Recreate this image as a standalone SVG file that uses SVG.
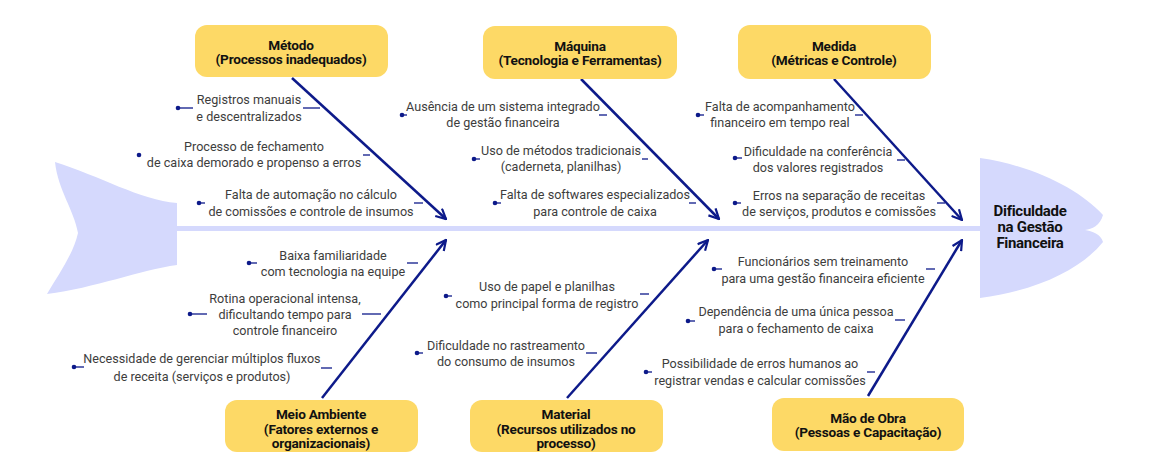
<svg xmlns="http://www.w3.org/2000/svg" width="1154" height="452" viewBox="0 0 1154 452">
<defs>
<style>
.fish{fill:#d5d9fd}
.box{fill:#fdd966}
.bt{font-family:Roboto,"Liberation Sans",sans-serif;font-weight:700;font-size:13.6px;fill:#111;text-anchor:middle;letter-spacing:-0.2px}
.ht{font-family:Roboto,"Liberation Sans",sans-serif;font-weight:700;font-size:15px;fill:#111;text-anchor:middle;letter-spacing:-0.3px}
.it{font-family:Roboto,"Liberation Sans",sans-serif;font-size:12.6px;fill:#3d3d3d;text-anchor:middle}
.bone{stroke:#0d1a8a;stroke-width:2.5;fill:none}
.tick{stroke:#0d1a8a;stroke-width:1.3;fill:none}
.dot{fill:#0d1a8a}
</style>
<marker id="ah" viewBox="0 0 12 12" refX="11" refY="6" markerWidth="12" markerHeight="12" markerUnits="userSpaceOnUse" orient="auto">
<path d="M1,1 L11,6 L1,11" fill="none" stroke="#0d1a8a" stroke-width="2.2"/>
</marker>
</defs>
<rect width="1154" height="452" fill="#fff"/>

<g id="fish-tail">
<path class="fish" d="M55,162 C100,176 140,200 177,203 L177,265 C140,270 95,288 47,294 C58,275 73,255 78,233 C74,210 58,190 55,162 Z"/>
</g>
<g id="spine"><rect class="fish" x="176" y="226" width="806" height="5"/></g>
<g id="head">
<path class="fish" d="M980,158 C1035,166 1080,190 1103,215 C1100,226 1092,229 1085,230 C1092,231 1101,234 1103,242 C1082,268 1040,290 980,298 Z"/>
<text class="ht" x="1030" y="216">Dificuldade</text>
<text class="ht" x="1030" y="232">na Gestão</text>
<text class="ht" x="1030" y="248">Financeira</text>
</g>

<g id="connectors">
<line class="bone" x1="292" y1="78" x2="446" y2="219" marker-end="url(#ah)"/>
<line class="bone" x1="581" y1="79" x2="719" y2="219" marker-end="url(#ah)"/>
<line class="bone" x1="834" y1="79" x2="962" y2="220" marker-end="url(#ah)"/>
<line class="bone" x1="322" y1="398" x2="446" y2="240" marker-end="url(#ah)"/>
<line class="bone" x1="567" y1="398" x2="708" y2="240" marker-end="url(#ah)"/>
<line class="bone" x1="868" y1="396" x2="962" y2="240" marker-end="url(#ah)"/>
</g>

<g id="metodo">
<rect class="box" x="195" y="25" width="193" height="52" rx="12"/>
<text class="bt" x="291" y="50">Método</text>
<text class="bt" x="291" y="64">(Processos inadequados)</text>
</g>
<g id="maquina">
<rect class="box" x="483" y="26" width="194" height="53" rx="12"/>
<text class="bt" x="580" y="51">Máquina</text>
<text class="bt" x="580" y="65">(Tecnologia e Ferramentas)</text>
</g>
<g id="medida">
<rect class="box" x="738" y="25" width="193" height="54" rx="12"/>
<text class="bt" x="834" y="51">Medida</text>
<text class="bt" x="834" y="65">(Métricas e Controle)</text>
</g>
<g id="meio-ambiente">
<rect class="box" x="225" y="400" width="193" height="52" rx="12"/>
<text class="bt" x="321" y="419">Meio Ambiente</text>
<text class="bt" x="321" y="434">(Fatores externos e</text>
<text class="bt" x="321" y="448">organizacionais)</text>
</g>
<g id="material">
<rect class="box" x="470" y="400" width="193" height="52" rx="12"/>
<text class="bt" x="566" y="419">Material</text>
<text class="bt" x="566" y="434">(Recursos utilizados no</text>
<text class="bt" x="566" y="448">processo)</text>
</g>
<g id="mao-de-obra">
<rect class="box" x="772" y="398" width="192" height="53" rx="12"/>
<text class="bt" x="868" y="423">Mão de Obra</text>
<text class="bt" x="868" y="437">(Pessoas e Capacitação)</text>
</g>

<g id="m1">
<circle class="dot" cx="178" cy="108" r="2.3"/><line class="tick" x1="178" y1="108" x2="193" y2="108"/>
<text class="it" x="249" y="104">Registros manuais</text>
<text class="it" x="249" y="121">e descentralizados</text>
<line class="tick" x1="303" y1="108" x2="320" y2="108"/>
</g>
<g id="m2">
<circle class="dot" cx="139" cy="155" r="2.3"/>
<text class="it" x="254" y="151">Processo de fechamento</text>
<text class="it" x="254" y="167">de caixa demorado e propenso a erros</text>
<line class="tick" x1="363" y1="155" x2="370" y2="155"/>
</g>
<g id="m3">
<circle class="dot" cx="199" cy="203" r="2.3"/><line class="tick" x1="199" y1="203" x2="205" y2="203"/>
<text class="it" x="311" y="199">Falta de automação no cálculo</text>
<text class="it" x="311" y="216">de comissões e controle de insumos</text>
<line class="tick" x1="414" y1="203" x2="423" y2="203"/>
</g>

<g id="q1">
<circle class="dot" cx="402" cy="115" r="2.3"/><line class="tick" x1="402" y1="115" x2="407" y2="115"/>
<text class="it" x="503" y="111">Ausência de um sistema integrado</text>
<text class="it" x="503" y="127">de gestão financeira</text>
<line class="tick" x1="599" y1="115" x2="607" y2="115"/>
</g>
<g id="q2">
<circle class="dot" cx="474" cy="159" r="2.3"/><line class="tick" x1="474" y1="159" x2="480" y2="159"/>
<text class="it" x="561" y="155">Uso de métodos tradicionais</text>
<text class="it" x="561" y="171">(caderneta, planilhas)</text>
<line class="tick" x1="642" y1="159" x2="648" y2="159"/>
</g>
<g id="q3">
<circle class="dot" cx="495" cy="203" r="2.3"/><line class="tick" x1="495" y1="203" x2="501" y2="203"/>
<text class="it" x="595" y="199">Falta de softwares especializados</text>
<text class="it" x="595" y="216">para controle de caixa</text>
<line class="tick" x1="689" y1="203" x2="696" y2="203"/>
</g>

<g id="d1">
<circle class="dot" cx="698" cy="115" r="2.3"/><line class="tick" x1="698" y1="115" x2="704" y2="115"/>
<text class="it" x="780" y="111">Falta de acompanhamento</text>
<text class="it" x="780" y="127">financeiro em tempo real</text>
<line class="tick" x1="855" y1="115" x2="863" y2="115"/>
</g>
<g id="d2">
<circle class="dot" cx="735" cy="158" r="2.3"/><line class="tick" x1="735" y1="158" x2="742" y2="158"/>
<text class="it" x="818" y="156">Dificuldade na conferência</text>
<text class="it" x="818" y="172">dos valores registrados</text>
<line class="tick" x1="897" y1="160" x2="905" y2="160"/>
</g>
<g id="d3">
<circle class="dot" cx="735" cy="203" r="2.3"/><line class="tick" x1="735" y1="203" x2="741" y2="203"/>
<text class="it" x="839" y="200">Erros na separação de receitas</text>
<text class="it" x="839" y="216">de serviços, produtos e comissões</text>
<line class="tick" x1="937" y1="203" x2="945" y2="203"/>
</g>

<g id="e1">
<circle class="dot" cx="249" cy="263" r="2.3"/><line class="tick" x1="249" y1="263" x2="257" y2="263"/>
<text class="it" x="333" y="260">Baixa familiaridade</text>
<text class="it" x="333" y="276">com tecnologia na equipe</text>
<line class="tick" x1="407" y1="263" x2="418" y2="263"/>
</g>
<g id="e2">
<circle class="dot" cx="190" cy="314" r="2.3"/><line class="tick" x1="190" y1="314" x2="207" y2="314"/>
<text class="it" x="285" y="303">Rotina operacional intensa,</text>
<text class="it" x="285" y="319">dificultando tempo para</text>
<text class="it" x="285" y="335">controle financeiro</text>
<line class="tick" x1="362" y1="314" x2="381" y2="314"/>
</g>
<g id="e3">
<circle class="dot" cx="74" cy="367" r="2.3"/><line class="tick" x1="74" y1="367" x2="84" y2="367"/>
<text class="it" x="202" y="363">Necessidade de gerenciar múltiplos fluxos</text>
<text class="it" x="202" y="381">de receita (serviços e produtos)</text>
<line class="tick" x1="321" y1="368" x2="332" y2="368"/>
</g>

<g id="t1">
<circle class="dot" cx="446" cy="296" r="2.3"/><line class="tick" x1="446" y1="296" x2="452" y2="296"/>
<text class="it" x="547" y="291">Uso de papel e planilhas</text>
<text class="it" x="547" y="308">como principal forma de registro</text>
<line class="tick" x1="640" y1="294" x2="649" y2="294"/>
</g>
<g id="t2">
<circle class="dot" cx="417" cy="353" r="2.3"/><line class="tick" x1="417" y1="353" x2="423" y2="353"/>
<text class="it" x="506" y="350">Dificuldade no rastreamento</text>
<text class="it" x="506" y="366">do consumo de insumos</text>
<line class="tick" x1="586" y1="353" x2="597" y2="353"/>
</g>

<g id="o1">
<circle class="dot" cx="714" cy="269" r="2.3"/><line class="tick" x1="714" y1="269" x2="722" y2="269"/>
<text class="it" x="823" y="266">Funcionários sem treinamento</text>
<text class="it" x="823" y="283">para uma gestão financeira eficiente</text>
<line class="tick" x1="926" y1="269" x2="935" y2="269"/>
</g>
<g id="o2">
<circle class="dot" cx="688" cy="321" r="2.3"/><line class="tick" x1="688" y1="321" x2="695" y2="321"/>
<text class="it" x="796" y="316">Dependência de uma única pessoa</text>
<text class="it" x="796" y="333">para o fechamento de caixa</text>
<line class="tick" x1="895" y1="320" x2="905" y2="320"/>
</g>
<g id="o3">
<circle class="dot" cx="646" cy="372" r="2.3"/><line class="tick" x1="646" y1="372" x2="652" y2="372"/>
<text class="it" x="760" y="368">Possibilidade de erros humanos ao</text>
<text class="it" x="760" y="385">registrar vendas e calcular comissões</text>
<line class="tick" x1="867" y1="372" x2="875" y2="372"/>
</g>
</svg>
